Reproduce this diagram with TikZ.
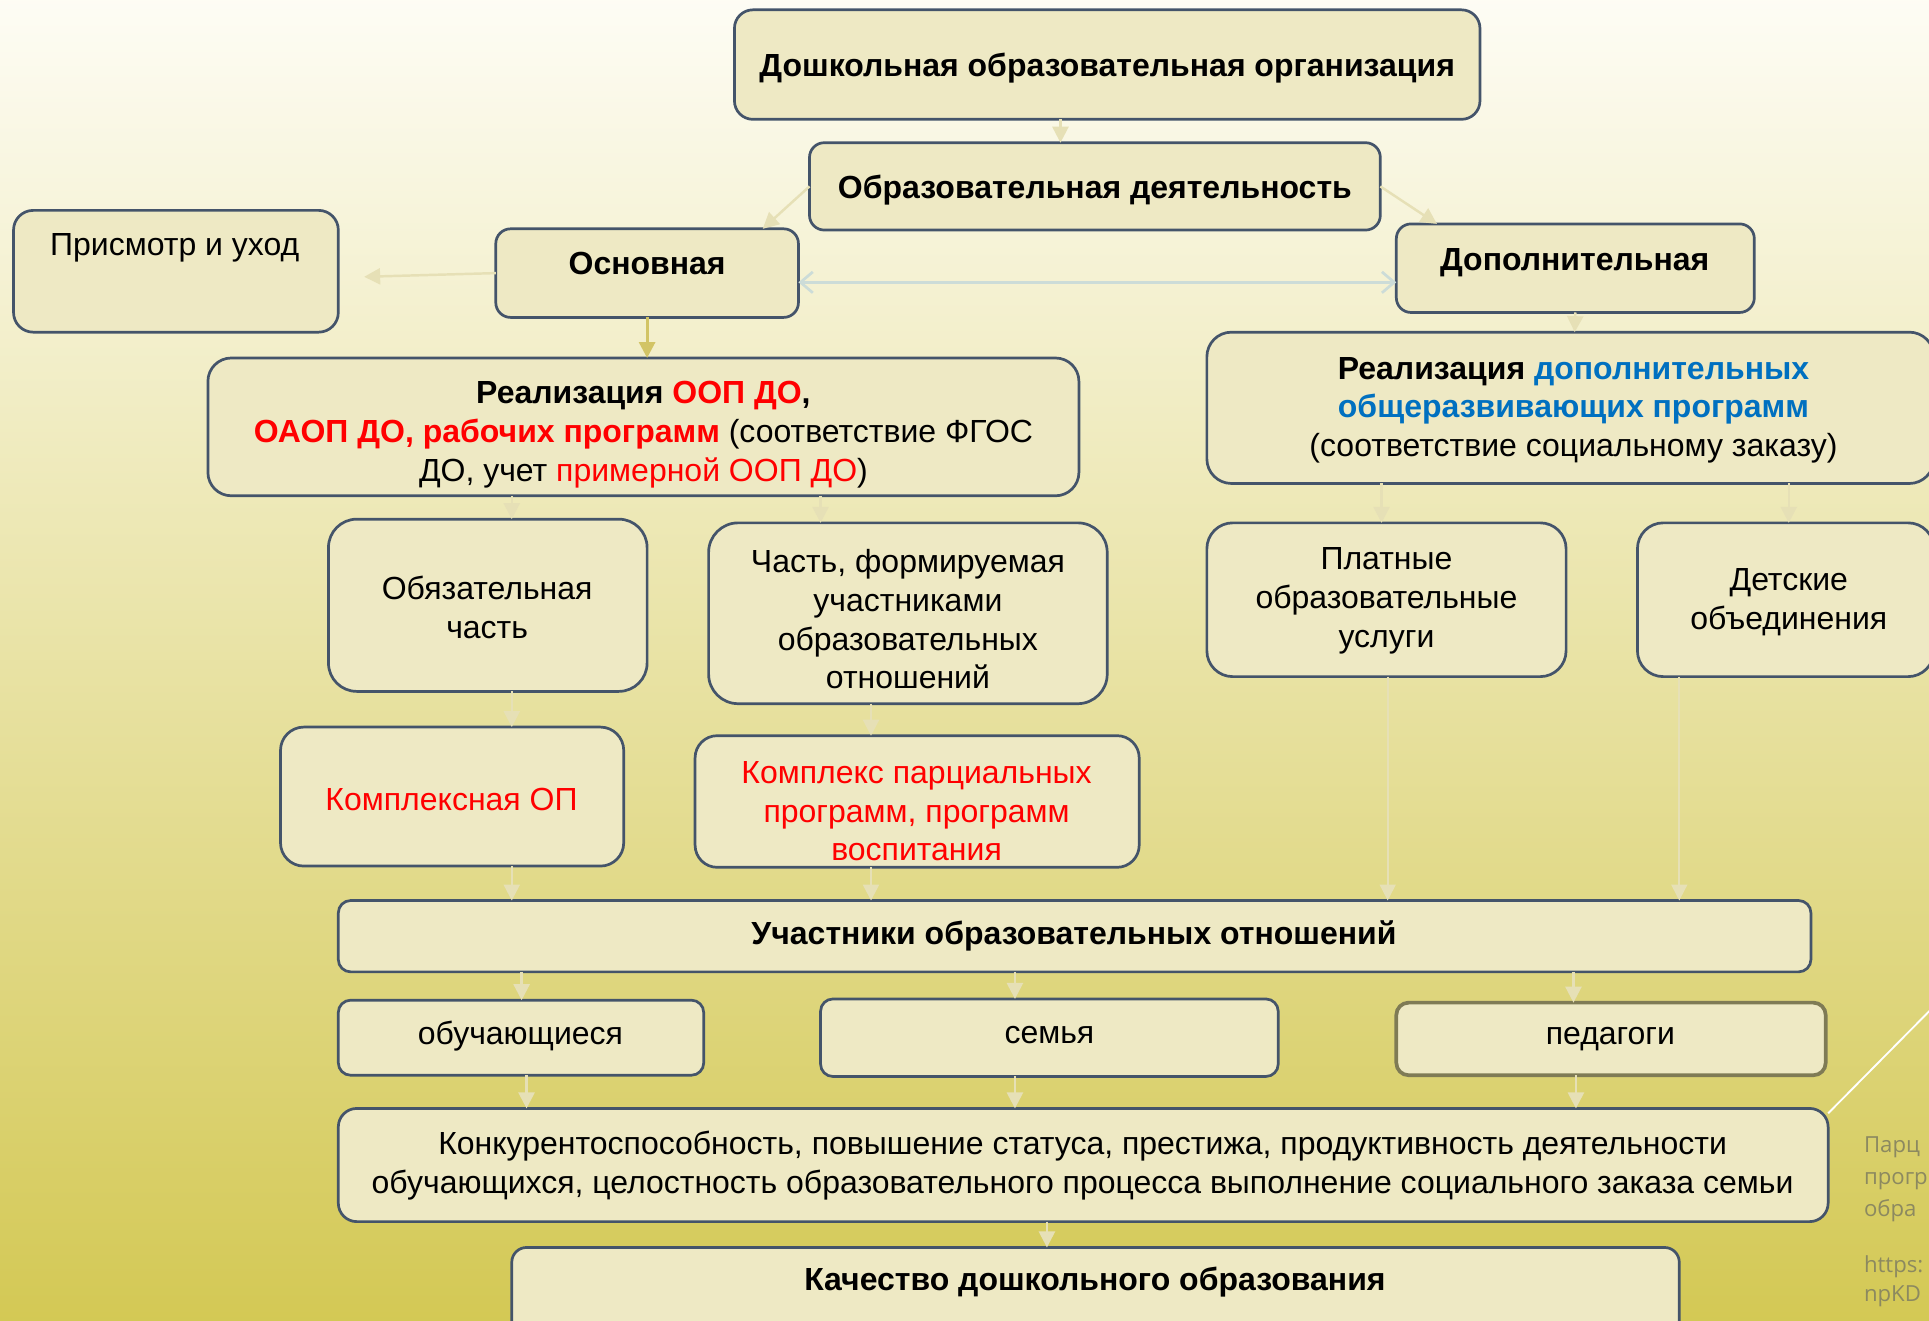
\documentclass[tikz,border=0pt]{standalone}
\usepackage{fontspec}
\setmainfont{Liberation Sans}
\newfontfamily\notefont{Open Sans}
\usetikzlibrary{arrows.meta}
\definecolor{boxfill}{HTML}{EEE9C4}
\definecolor{boxline}{HTML}{44546A}
\definecolor{palearrow}{HTML}{E6E0B6}
\definecolor{goldarrow}{HTML}{D2C465}
\definecolor{bluearrow}{HTML}{CCDCD8}
\definecolor{txtred}{HTML}{FF0000}
\definecolor{txtblue}{HTML}{0070C0}
\definecolor{bgtop}{HTML}{FEFDF6}
\definecolor{bgmid}{HTML}{ECE6AC}
\definecolor{bgbot}{HTML}{D3C853}
\definecolor{notegray}{HTML}{8C8960}
\definecolor{pedline}{HTML}{7F7B55}
\newcommand\dbox[7][]{\node[box,#1,rounded corners=#7pt,minimum width={((#5)-(#3))*1pt},minimum height={((#6)-(#4))*1pt}] (#2) at ({((#3)+(#5))/2},{((#4)+(#6))/2}) {};}
\begin{document}
\begin{tikzpicture}[x=1pt,y=-1pt,
  box/.style={draw=boxline, fill=boxfill, line width=2.2pt, rectangle, inner sep=0pt, outer sep=0pt},
  lbl/.style={align=center, font=\fontsize{26}{31.5}\selectfont, inner sep=0pt, yshift=-1.5pt},
  pale/.style={draw=palearrow, line width=2pt, -{Triangle[length=13pt,width=13pt]}},
  thinpale/.style={draw=palearrow, line width=1.5pt, -{Triangle[length=13pt,width=13pt]}},
  gold/.style={draw=goldarrow, line width=2.5pt, -{Triangle[length=13pt,width=13pt]}},
  blueline/.style={draw=bluearrow, line width=2.2pt, {Straight Barb[length=10pt,width=17pt]}-{Straight Barb[length=10pt,width=17pt]}},
  note/.style={anchor=base west, inner sep=0pt, text=notegray, font=\notefont\fontsize{18}{22}\selectfont}
]
\useasboundingbox (0,0) rectangle (1568,1073);
\clip (0,0) rectangle (1568,1073);
\shade[shading angle=-20, top color=bgtop, middle color=bgmid, bottom color=bgbot] (-10,-10) rectangle (1578,1083);

% boxes
\dbox{org}{597}{8}{1203}{97}{15}
\dbox{act}{658}{116}{1122}{187}{12}
\dbox{care}{11}{171}{275}{270}{16}
\dbox{osn}{403}{186}{649}{258}{12}
\dbox{dop}{1135}{182}{1426}{254}{12}
\dbox{real1}{169}{291}{877}{403}{19}
\dbox{real2}{981}{270}{1572}{393}{20}
\dbox{oblig}{267}{422}{526}{562}{23}
\dbox{chast}{576}{425}{900}{572}{24}
\dbox{platn}{981}{425}{1273}{550}{21}
\dbox{detsk}{1331}{425}{1572}{550}{21}
\dbox{kompl}{228}{591}{507}{704}{19}
\dbox{parc}{565}{598}{926}{705}{18}
\dbox{uch}{275}{732}{1472}{790}{10}
\dbox{obuch}{275}{813}{572}{874}{10}
\dbox{semya}{667}{812}{1039}{875}{10}
\dbox[draw=pedline,line width=3pt]{pedag}{1135}{815}{1484}{874}{10}
\dbox{konk}{275}{901}{1486}{993}{15}
\dbox{kach}{416}{1014}{1365}{1085}{12}

% texts
\node[lbl] (org-t) at (900,54) {\textbf{Дошкольная образовательная организация}};
\node[lbl] (act-t) at (890,153) {\textbf{Образовательная деятельность}};
\node[lbl] (care-t) at (142,200) {Присмотр и уход};
\node[lbl] (osn-t) at (526,213) {\textbf{Основная}};
\node[lbl] (dop-t) at (1280,212) {\textbf{Дополнительная}};
\node[lbl] (real1-t) at (523,352) {\textbf{Реализация \textcolor{txtred}{ООП ДО},}\\
  \textbf{\textcolor{txtred}{ОАОП ДО, рабочих программ}} (соответствие ФГОС\\
  ДО, учет \textcolor{txtred}{примерной ООП ДО})};
\node[lbl] (real2-t) at (1279,332) {\textbf{Реализация \textcolor{txtblue}{дополнительных}}\\
  \textbf{\textcolor{txtblue}{общеразвивающих программ}}\\
  (соответствие социальному заказу)};
\node[lbl] (oblig-t) at (396,492) {Обязательная\\часть};
\node[lbl] (chast-t) at (738,502) {Часть, формируемая\\участниками\\образовательных\\отношений};
\node[lbl] (platn-t) at (1127,487) {Платные\\образовательные\\услуги};
\node[lbl] (detsk-t) at (1454,488) {Детские\\объединения};
\node[lbl,text=txtred] (kompl-t) at (367,648) {Комплексная ОП};
\node[lbl,text=txtred] (parc-t) at (745,658) {Комплекс парциальных\\программ, программ\\воспитания};
\node[lbl] (uch-t) at (873,759) {\textbf{Участники образовательных отношений}};
\node[lbl] (obuch-t) at (423,841) {обучающиеся};
\node[lbl] (semya-t) at (853,840) {семья};
\node[lbl] (pedag-t) at (1309,843) {педагоги};
\node[lbl] (konk-t) at (880,946) {Конкурентоспособность, повышение статуса, престижа, продуктивность деятельности\\
  обучающихся, целостность образовательного процесса выполнение социального заказа семьи};
\node[lbl] (kach-t) at (890,1041) {\textbf{Качество дошкольного образования}};

% connectors
\coordinate (careend) at (296,225);
\draw[pale] (org.south -| 862,0) -- (act.north -| 862,0);
\draw[pale] (act.west) -- (osn.north -| 620,0);
\draw[pale] (act.east) -- (dop.north -| 1168,0);
\draw[pale] (osn.west) -- (careend);
\draw[blueline] (osn.east |- 0,229.5) -- (dop.west |- 0,229.5);
\draw[gold] (osn.south) -- (real1.north -| 526,0);
\draw[pale] (dop.south) -- (real2.north -| 1280,0);
\draw[pale] (real1.south -| 416,0) -- (oblig.north -| 416,0);
\draw[pale] (real1.south -| 667,0) -- (chast.north -| 667,0);
\draw[pale] (real2.south -| 1123,0) -- (platn.north -| 1123,0);
\draw[pale] (real2.south -| 1454,0) -- (detsk.north -| 1454,0);
\draw[pale] (oblig.south -| 416,0) -- (kompl.north -| 416,0);
\draw[pale] (chast.south -| 708,0) -- (parc.north -| 708,0);
\draw[pale] (kompl.south -| 416,0) -- (uch.north -| 416,0);
\draw[pale] (parc.south -| 708,0) -- (uch.north -| 708,0);
\draw[thinpale] (platn.south -| 1128,0) -- (uch.north -| 1128,0);
\draw[thinpale] (detsk.south -| 1365,0) -- (uch.north -| 1365,0);
\draw[pale] (uch.south -| 424,0) -- (obuch.north -| 424,0);
\draw[pale] (uch.south -| 825,0) -- (semya.north -| 825,0);
\draw[pale] (uch.south -| 1279,0) -- (pedag.north -| 1279,0);
\draw[pale] (obuch.south -| 428,0) -- (konk.north -| 428,0);
\draw[pale] (semya.south -| 825,0) -- (konk.north -| 825,0);
\draw[pale] (pedag.south -| 1281,0) -- (konk.north -| 1281,0);
\draw[pale] (konk.south -| 851,0) -- (kach.north -| 851,0);

% white diagonal line and side note
\coordinate (wlend) at (1578,812);
\draw[white, line width=1.5pt] ([yshift=-4pt]konk.north east) -- (wlend);
\node[note] (n1) at (1515,937) {Парц};
\node[note] (n2) at (1515,963) {прогр};
\node[note] (n3) at (1515,989) {обра};
\node[note] (n4) at (1515,1034) {https:};
\node[note] (n5) at (1515,1058) {npKD};
\end{tikzpicture}
\end{document}
